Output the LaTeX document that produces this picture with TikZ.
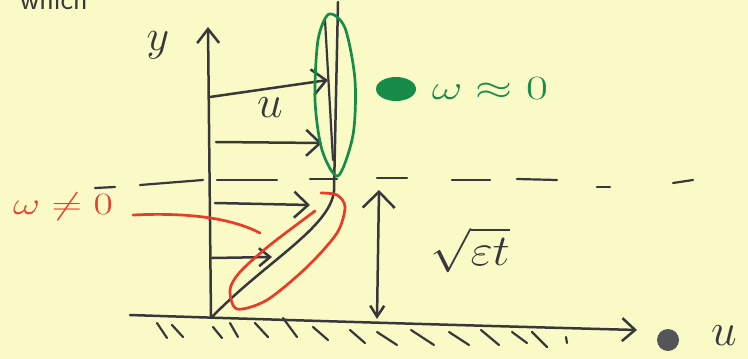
\RequirePackage{fix-cm}
\documentclass[tikz,border=0pt]{standalone}
\usetikzlibrary{arrows.meta}
\definecolor{paper}{RGB}{250,250,198}
\definecolor{ink}{RGB}{55,55,60}
\definecolor{gink}{RGB}{22,140,72}
\definecolor{rink}{RGB}{235,58,38}
\begin{document}
\begin{tikzpicture}[x=1pt,y=-1pt,line cap=round,line join=round,
  pen/.style={draw=ink,line width=2.5pt},
  thin pen/.style={draw=ink,line width=2.2pt},
  bigarrow/.style={pen,-{Straight Barb[length=14pt,width=26pt,line width=2.5pt]}},
  smallarrow/.style={pen,-{Straight Barb[length=11pt,width=18pt,line width=2.5pt]}},
  hatch/.style={draw=ink,line width=2.2pt},
  lab/.style={text=ink,inner sep=0pt},
  gpen/.style={draw=gink,line width=2.7pt},
  rpen/.style={draw=rink,line width=2.7pt}]
\fill[paper] (0,0) rectangle (748,359);
\useasboundingbox (0,0) rectangle (748,359);

% cut-off heading
\node[lab,anchor=base west,font=\fontsize{30}{30}\selectfont\sffamily] (head) at (20,9) {which};

% named points
\coordinate (O) at (211,318);
\coordinate (Ytop) at (208,27);
\coordinate (Wl) at (130,315);
\coordinate (Wr) at (637,330);
\coordinate (K) at (334,191);
\coordinate (T) at (338,2);

% y axis and wall
\draw[pen,-{Straight Barb[length=14pt,width=22pt,line width=2.5pt]}] (O) -- (Ytop);
\draw[pen,-{Straight Barb[length=13pt,width=23pt,line width=2.5pt]}] (Wl) .. controls (250,319) and (450,325) .. (Wr);
\node[lab,font=\fontsize{44}{44}\selectfont] (ylab) at (158,45) {$y$};

% hatches
\foreach \a/\b/\c/\d in {157/323/167/338,172/325/183/337,213/327/222/338,230/323/238/337,255/323/268/337,283/318/297/337,313/327/328/340,350/330/365/343,377/332/397/345,411/330/434/345,449/332/469/345,481/330/499/345,512/332/527/343,532/332/547/347,566/337/567/343}
  \draw[hatch] (\a,\b) -- (\c,\d);

% dashed separator
\foreach \a/\b/\c/\d in {95/188/115/187,140/185/203/180,217/180/277/180,310/179/337/179,377/178/407/178,452/180/490/180,517/179/557/180,597/187/610/187,673/183/693/180}
  \draw[thin pen] (\a,\b) -- (\c,\d);

% velocity profile
\draw[pen] (O) .. controls (265,262) and (330,228) .. (K);
\draw[pen] (K) -- (T);
\draw[thin pen] (325,20) -- (333,160);

% velocity arrows
\coordinate (a1s) at (210,97);  \coordinate (a1e) at (328,80);
\coordinate (a2s) at (216,142); \coordinate (a2e) at (322,143);
\coordinate (a3s) at (215,203); \coordinate (a3e) at (310,205);
\coordinate (a4s) at (212,258); \coordinate (a4e) at (272,257);
\draw[bigarrow] (a1s) -- (a1e);
\draw[bigarrow] (a2s) -- (a2e);
\draw[bigarrow] (a3s) -- (a3e);
\draw[smallarrow] (a4s) -- (a4e);
\node[lab,font=\fontsize{46}{46}\selectfont] (ulab) at (270,108) {$u$};

% green region
\draw[gpen] plot[smooth cycle] coordinates {(329,14) (345,28) (355,80) (353,135) (338,176) (322,150) (315,100) (318,40)};
\fill[gink] (396,89) ellipse [x radius=20pt,y radius=12pt];
\node[text=gink,inner sep=0pt,font=\fontsize{34}{34}\selectfont,xscale=1.4] (wzero) at (490,89) {$\omega\approx 0$};

% red region
\draw[rpen] plot[smooth] coordinates {(315,211) (270,245) (240,272) (230,290) (237,309) (267,300) (307,267) (337,233) (345,207) (337,195) (321,193)};
\coordinate (rs) at (133,215);
\coordinate (re) at (260,233);
\draw[rpen] (rs) .. controls (195,212) and (235,220) .. (re);
\node[text=rink,inner sep=0pt,font=\fontsize{31}{31}\selectfont,xscale=1.35] (wnz) at (63,207) {$\omega\neq 0$};

% boundary layer thickness
\coordinate (dtop) at (379,190);
\coordinate (dbot) at (377,319);
\draw[pen,{Straight Barb[length=16pt,width=32pt,line width=2.5pt]}-{Straight Barb[length=11pt,width=14pt,line width=2.5pt]}] (dtop) -- (dbot);
\node[lab,font=\fontsize{44}{44}\selectfont,xscale=1.1] (delta) at (470,250) {$\sqrt{\varepsilon t}$};

% x axis label
\fill[ink!85] (668,340) circle [radius=11pt];
\node[lab,font=\fontsize{46}{46}\selectfont] (xlab) at (724,336) {$u$};
\end{tikzpicture}
\end{document}
